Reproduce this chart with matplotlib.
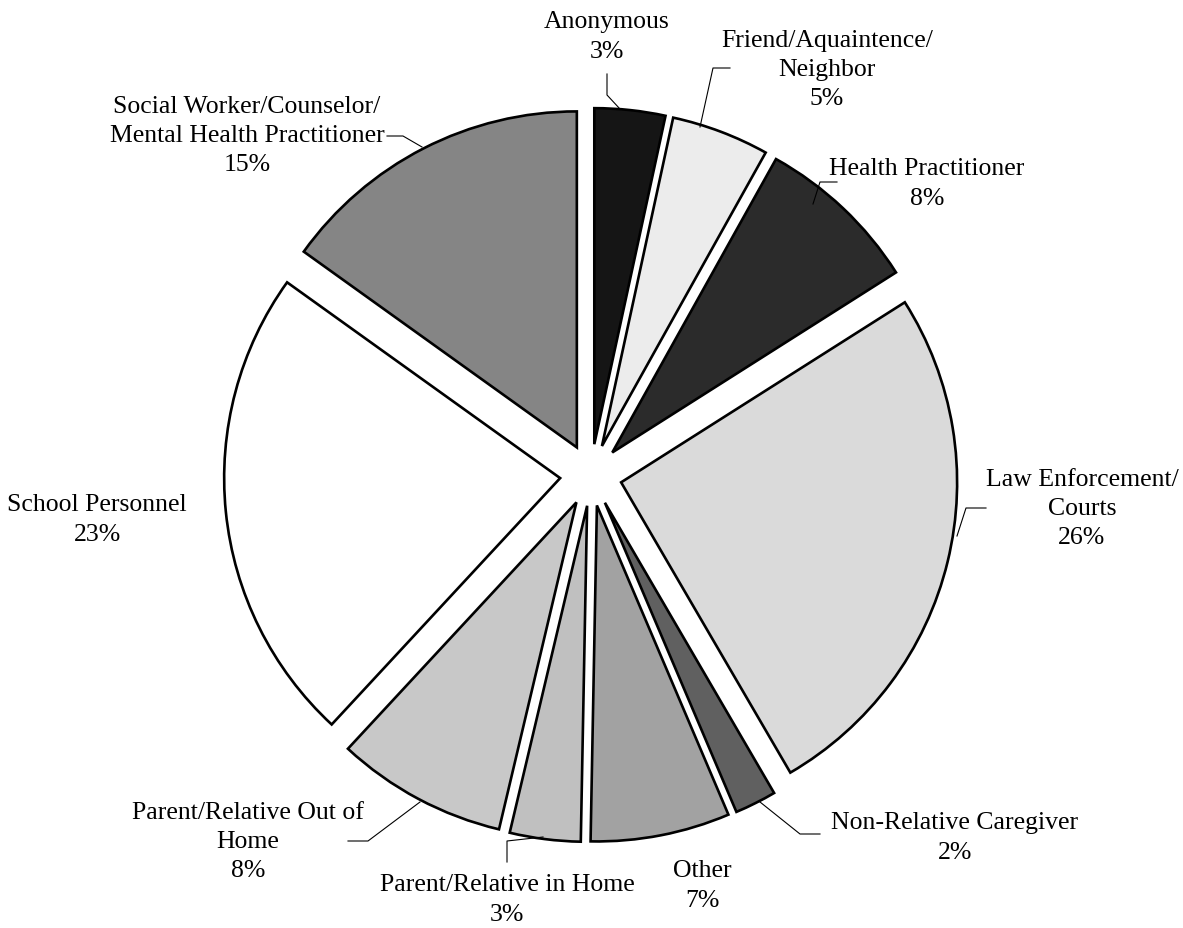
import matplotlib.pyplot as plt

# referral sources (clockwise from 12 o'clock)
sources = ['Anonymous', 'Friend/Aquaintence/\nNeighbor', 'Health Practitioner',
           'Law Enforcement/\nCourts', 'Non-Relative Caregiver', 'Other',
           'Parent/Relative in Home', 'Parent/Relative Out of\nHome',
           'School Personnel', 'Social Worker/Counselor/\nMental Health Practitioner']
percents = [3.4, 4.7, 7.9, 25.6, 2.0, 6.7, 3.4, 8.2, 23.0, 15.1]
fills = ['#151515', '#ececec', '#2b2b2b', '#dadada', '#606060',
         '#a2a2a2', '#c0c0c0', '#c8c8c8', '#ffffff', '#858585']

W, H = 1183, 929
plt.rcParams['font.family'] = ['Liberation Serif', 'DejaVu Serif']

fig = plt.figure(figsize=(W / 100, H / 100), dpi=100)
ax = fig.add_axes([0, 0, 1, 1])

# explode is in data units here (pixels)
ax.pie(percents, colors=fills, startangle=90, counterclock=False,
       center=(591, H - 476), radius=336, explode=[31] * len(percents),
       wedgeprops=dict(edgecolor='black', linewidth=1.9), frame=True)
ax.set_xlim(0, W)
ax.set_ylim(0, H)
ax.set_aspect('equal')
ax.axis('off')

# label block centres (pixels, y from top)
label_pos = [(607, 37), (827, 70), (927, 184), (1082, 509), (955, 838),
             (702, 886), (507, 900), (248, 842), (97, 520), (247, 136)]
for name, pct, (x, y) in zip(sources, percents, label_pos):
    ax.text(x, H - y, f'{name}\n{pct:.0f}%', ha='center', va='center',
            fontsize=18.5, linespacing=1.42)

# leader lines (pixels, y from top)
leaders = [
    [(607, 75), (607, 96), (620, 110)],
    [(730, 69), (713, 69), (700, 128)],
    [(837, 183), (820, 183), (813, 205)],
    [(986, 509), (966, 509), (957, 537)],
    [(820, 835), (800, 835), (760, 803)],
    [(507, 863), (507, 842), (543, 838)],
    [(348, 842), (368, 842), (420, 803)],
    [(387, 137), (403, 137), (422, 148)],
]
for pts in leaders:
    ax.plot([p[0] for p in pts], [H - p[1] for p in pts], color='black', linewidth=0.8)

fig.savefig('out.png', dpi=100)
